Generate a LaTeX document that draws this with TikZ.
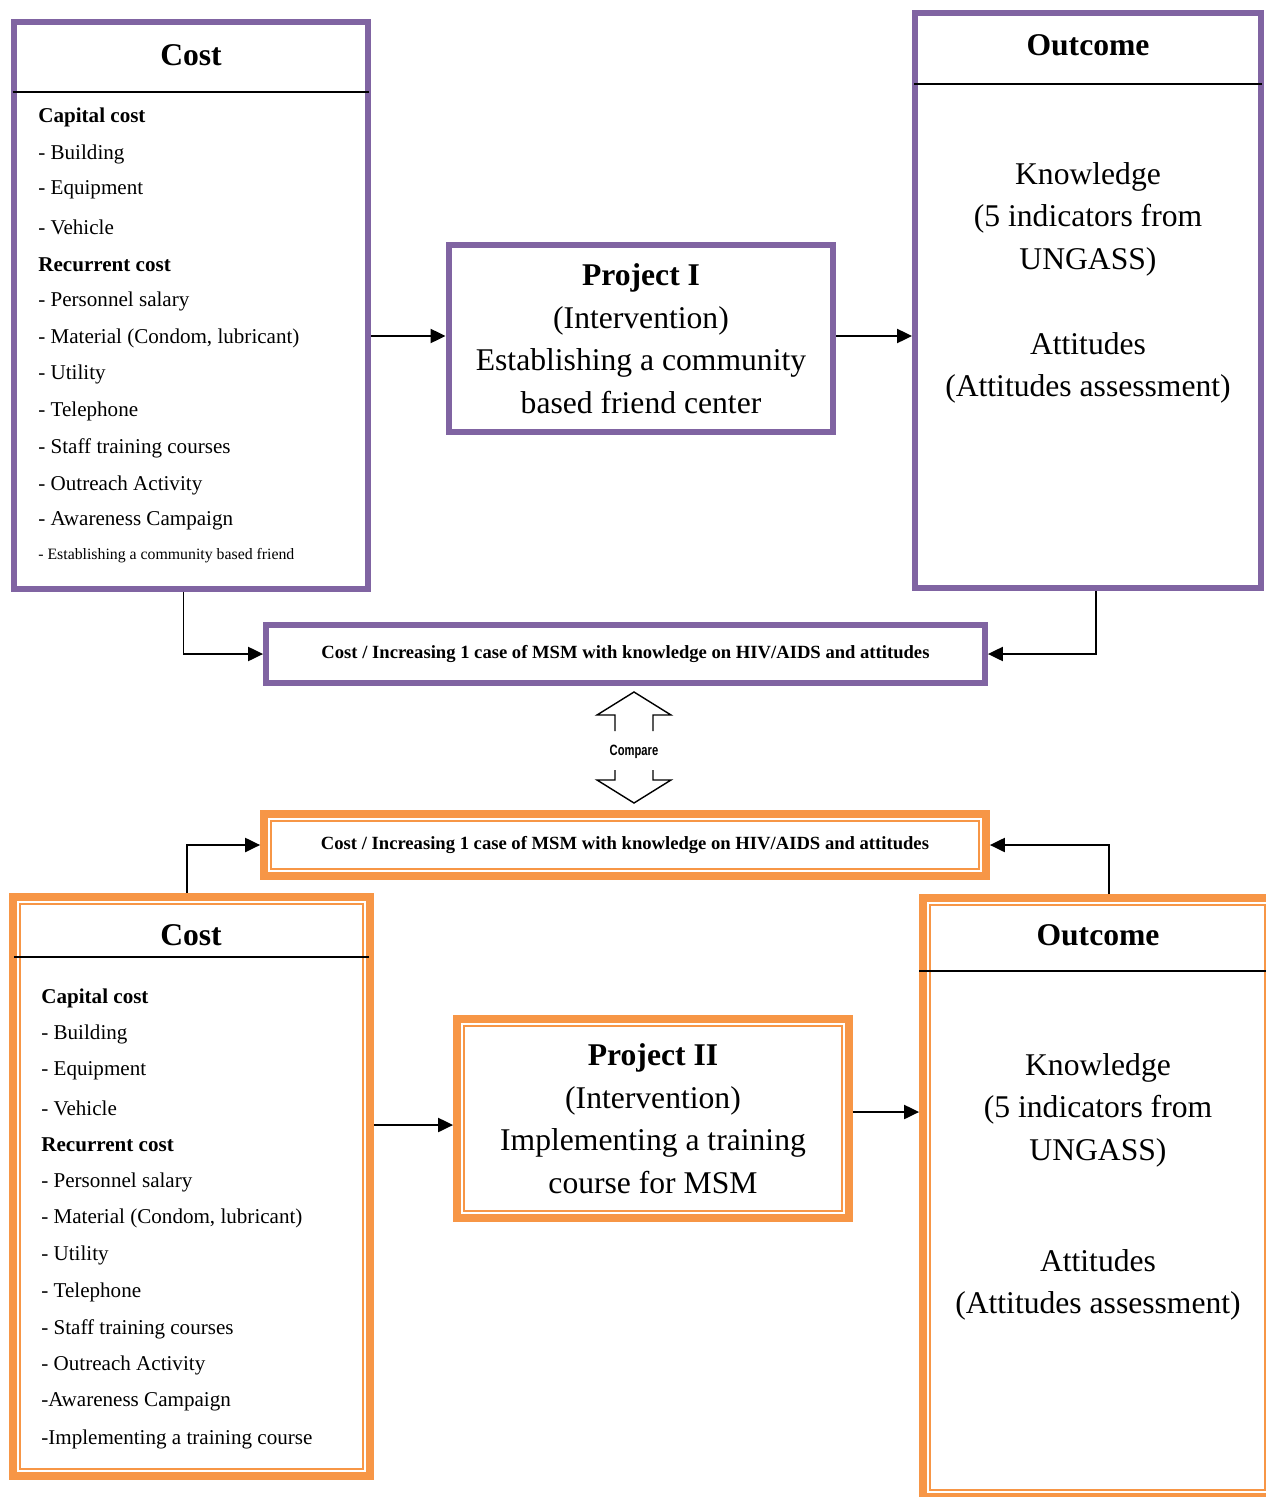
\documentclass[tikz,border=0pt]{standalone}
\usepackage{fontspec}
\usepackage{graphicx}
\setmainfont{Liberation Serif}
\newfontfamily\cmpfont{Liberation Sans}
\usetikzlibrary{arrows.meta}
\definecolor{purpleline}{HTML}{8064A2}
\definecolor{orangeline}{HTML}{F79646}
\tikzstyle{purple box}=[draw=purpleline, line width=3.4pt, inner sep=0pt]
\tikzstyle{orange box}=[draw=orangeline, line width=4.5pt, inner sep=0pt]
\tikzstyle{orange inner}=[draw=orangeline, line width=1.2pt]
\tikzstyle{title}=[font=\fontsize{18}{22}\selectfont\bfseries]
\tikzstyle{item}=[anchor=west, inner sep=0pt, font=\fontsize{12}{14}\selectfont]
\tikzstyle{head item}=[item, font=\fontsize{12}{14}\selectfont\bfseries]
\tikzstyle{body}=[align=center, font=\fontsize{18}{24.2}\selectfont]
\tikzstyle{ratio text}=[font=\fontsize{10.6}{12}\selectfont\bfseries]
\tikzstyle{link}=[draw, line width=1pt, -{Triangle[length=8.5pt,width=8pt]}]
\tikzstyle{sep line}=[draw, line width=1pt]

\begin{document}
\begin{tikzpicture}[x=0.02cm, y=-0.02cm]
    \useasboundingbox (0,0) rectangle (1266,1497);

    % project I
    \node[purple box, minimum width=7.1cm, minimum height=11.34cm] (costI) at (191,305.5) {};
    \node[purple box, body, minimum width=7.7cm, minimum height=3.76cm] (projI) at (641,338.5)
        {\textbf{Project I}\\(Intervention)\\Establishing a community\\based friend center};
    \node[purple box, minimum width=6.92cm, minimum height=11.5cm] (outI) at (1088,300.5) {};
    \node[purple box, ratio text, minimum width=14.38cm, minimum height=1.16cm] (ratioI) at (625.5,654)
        {Cost / Increasing 1 case of MSM with knowledge on HIV/AIDS and attitudes};

    \path[sep line] ([xshift=0.04cm]costI.west |- 0,92) -- ([xshift=-0.04cm]costI.east |- 0,92);
    \path[sep line] ([xshift=0.04cm]outI.west |- 0,84) -- ([xshift=-0.04cm]outI.east |- 0,84);
    \node[title] (costIt) at (191,55) {Cost};
    \node[title] (outIt) at (1088,45) {Outcome};
    \node[body] (knowI) at (1088,219) {Knowledge\\(5 indicators from\\UNGASS)};
    \node[body] (attI) at (1088,368) {Attitudes\\(Attitudes assessment)};

    \node[head item] (capI) at (38,117) {Capital cost};
    \node[head item] (recI) at (38,265) {Recurrent cost};
    \foreach \y/\txt [count=\i] in {154/Building, 190/Equipment, 227/Vehicle,
                                    301/Personnel salary, 338/{Material (Condom, lubricant)},
                                    374/Utility, 411/Telephone, 448/Staff training courses,
                                    485/Outreach Activity, 521/Awareness Campaign}
        \node[item] (itemI\i) at (38,\y) {- \txt};
    \node[item, font=\fontsize{9}{10}\selectfont] (lastI) at (38,556) {- Establishing a community based friend};

    \path[link] (costI.east |- 0,336) -- (projI.west |- 0,336);
    \path[link] (projI.east |- 0,336) -- (outI.west |- 0,336);
    \path[link] ([xshift=-0.15cm]costI.south) |- (ratioI.west);
    \path[link] ([xshift=0.16cm]outI.south) |- (ratioI.east);

    % compare
    \draw[line width=0.8pt] (615,731) -- (615,715) -- (597,715) -- (634,692) -- (671,715) -- (653,715) -- (653,731);
    \draw[line width=0.8pt] (615,770) -- (615,780) -- (597,780) -- (634,803) -- (671,780) -- (653,780) -- (653,770);
    \node[font=\cmpfont\fontsize{8.5}{10}\selectfont\bfseries] (cmp) at (634,752) {\scalebox{0.75}[1]{Compare}};

    % project II
    \node[orange box, ratio text, minimum width=14.44cm, minimum height=1.24cm] (ratioII) at (625,845)
        {Cost / Increasing 1 case of MSM with knowledge on HIV/AIDS and attitudes};
    \node[orange box, minimum width=7.14cm, minimum height=11.58cm] (costII) at (191.5,1186.5) {};
    \node[orange box, body, minimum width=7.84cm, minimum height=3.98cm] (projII) at (653,1118.5)
        {\textbf{Project II}\\(Intervention)\\Implementing a training\\course for MSM};
    \node[orange box, minimum width=6.98cm, minimum height=11.98cm] (outII) at (1097.5,1197.5) {};
    \foreach \n in {ratioII, costII, projII, outII}
        \draw[orange inner] ([shift={(11,11)}]\n.north west) rectangle ([shift={(-11,-11)}]\n.south east);

    \path[sep line] ([xshift=0.1cm]costII.west |- 0,957) -- ([xshift=-0.1cm]costII.east |- 0,957);
    \path[sep line] (outII.west |- 0,971) -- (outII.east |- 0,971);
    \node[title] (costIIt) at (191,935) {Cost};
    \node[title] (outIIt) at (1098,935) {Outcome};
    \node[body] (knowII) at (1098,1110) {Knowledge\\(5 indicators from\\UNGASS)};
    \node[body] (attII) at (1098,1285) {Attitudes\\(Attitudes assessment)};

    \node[head item] (capII) at (41,998) {Capital cost};
    \node[head item] (recII) at (41,1145) {Recurrent cost};
    \foreach \y/\txt [count=\i] in {1034/- Building, 1071/- Equipment, 1108/- Vehicle,
                                    1182/- Personnel salary, 1218/{- Material (Condom, lubricant)},
                                    1255/- Utility, 1292/- Telephone, 1329/- Staff training courses,
                                    1365/- Outreach Activity, 1402/-Awareness Campaign,
                                    1439/-Implementing a training course}
        \node[item] (itemII\i) at (41,\y) {\txt};

    \path[link] (costII.east |- 0,1125) -- (projII.west |- 0,1125);
    \path[link] (projII.east |- 0,1112) -- (outII.west |- 0,1112);
    \path[link] ([xshift=-0.09cm]costII.north) |- (ratioII.west);
    \path[link] ([xshift=0.23cm]outII.north) |- (ratioII.east);
\end{tikzpicture}
\end{document}
